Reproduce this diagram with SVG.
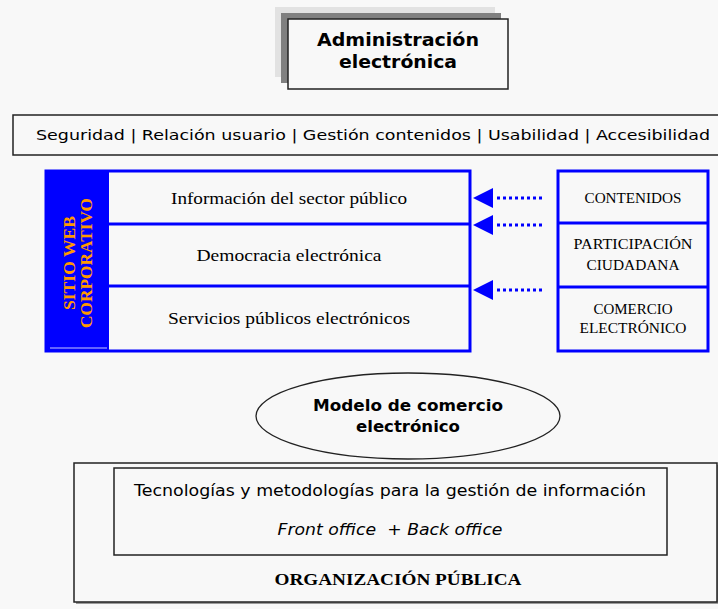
<svg xmlns="http://www.w3.org/2000/svg" width="718" height="609" viewBox="0 0 718 609">
<style>
.sans{font-family:"DejaVu Sans","Liberation Sans",sans-serif;fill:#000}
.serif{font-family:"Liberation Serif","DejaVu Serif",serif;fill:#000}
.box{fill:#f8f8f8;stroke:#222;stroke-width:1.5}
.blue{fill:#f8f8f8;stroke:#0000ff;stroke-width:3}
.dot{stroke:#0000ff;stroke-width:3;stroke-dasharray:3 3;fill:none}
.head{fill:#0000ff}
.vt{font-family:"Liberation Serif","DejaVu Serif",serif;font-size:16px;font-weight:bold;fill:#ff9900}
</style>
<rect width="718" height="609" fill="#f8f8f8"/>

<g id="admin">
  <rect x="275" y="7" width="220" height="70" fill="#e2e2e2"/>
  <rect x="281" y="13" width="220" height="70" fill="#808080"/>
  <rect x="288" y="19" width="220" height="70" class="box"/>
  <text x="398" y="46" class="sans" font-size="17" font-weight="bold" text-anchor="middle" textLength="162" lengthAdjust="spacingAndGlyphs">Administración</text>
  <text x="398" y="68" class="sans" font-size="17" font-weight="bold" text-anchor="middle" textLength="118" lengthAdjust="spacingAndGlyphs">electrónica</text>
</g>

<g id="band">
  <rect x="13" y="115" width="712" height="40" class="box"/>
  <text x="36" y="140" class="sans" font-size="14.5" textLength="674" lengthAdjust="spacingAndGlyphs">Seguridad | Relación usuario | Gestión contenidos | Usabilidad | Accesibilidad</text>
</g>

<g id="sitio">
  <rect x="46" y="171" width="424" height="180" class="blue"/>
  <rect x="46" y="171" width="63" height="180" fill="#0000ff"/>
  <line x1="50" y1="348" x2="107" y2="348" stroke="#c8c8ff" stroke-width="1"/>
  <line x1="109" y1="224" x2="470" y2="224" stroke="#0000ff" stroke-width="3"/>
  <line x1="109" y1="286" x2="470" y2="286" stroke="#0000ff" stroke-width="3"/>
  <g transform="translate(78,263) rotate(-90)">
    <text x="0" y="-3" class="vt" text-anchor="middle" textLength="94" lengthAdjust="spacingAndGlyphs">SITIO WEB</text>
    <text x="0" y="14" class="vt" text-anchor="middle" textLength="130" lengthAdjust="spacingAndGlyphs">CORPORATIVO</text>
  </g>
  <text x="289" y="204" class="serif" font-size="17" text-anchor="middle" textLength="236" lengthAdjust="spacingAndGlyphs">Información del sector público</text>
  <text x="289" y="261" class="serif" font-size="17" text-anchor="middle" textLength="185" lengthAdjust="spacingAndGlyphs">Democracia electrónica</text>
  <text x="289" y="324" class="serif" font-size="17" text-anchor="middle" textLength="242" lengthAdjust="spacingAndGlyphs">Servicios públicos electrónicos</text>
</g>

<g id="fuentes">
  <rect x="558" y="171" width="150" height="180" class="blue"/>
  <line x1="558" y1="223" x2="708" y2="223" stroke="#0000ff" stroke-width="3"/>
  <line x1="558" y1="287" x2="708" y2="287" stroke="#0000ff" stroke-width="3"/>
  <text x="633" y="203" class="serif" font-size="15" text-anchor="middle" textLength="97" lengthAdjust="spacingAndGlyphs">CONTENIDOS</text>
  <text x="633" y="249" class="serif" font-size="15" text-anchor="middle" textLength="119" lengthAdjust="spacingAndGlyphs">PARTICIPACIÓN</text>
  <text x="633" y="270" class="serif" font-size="15" text-anchor="middle" textLength="93" lengthAdjust="spacingAndGlyphs">CIUDADANA</text>
  <text x="633" y="314" class="serif" font-size="15" text-anchor="middle" textLength="79" lengthAdjust="spacingAndGlyphs">COMERCIO</text>
  <text x="633" y="333" class="serif" font-size="15" text-anchor="middle" textLength="107" lengthAdjust="spacingAndGlyphs">ELECTRÓNICO</text>
</g>

<g id="connectors">
  <line x1="497" y1="198" x2="542" y2="198" class="dot"/>
  <polygon points="473,198 493,188 493,208" class="head"/>
  <line x1="497" y1="225" x2="542" y2="225" class="dot"/>
  <polygon points="473,225 493,215 493,235" class="head"/>
  <line x1="497" y1="290" x2="542" y2="290" class="dot"/>
  <polygon points="473,290 493,280 493,300" class="head"/>
</g>

<g id="modelo">
  <ellipse cx="408" cy="416" rx="152" ry="43" fill="#f8f8f8" stroke="#222" stroke-width="1.3"/>
  <text x="408" y="411" class="sans" font-size="15" font-weight="bold" text-anchor="middle" textLength="190" lengthAdjust="spacingAndGlyphs">Modelo de comercio</text>
  <text x="408" y="432" class="sans" font-size="15" font-weight="bold" text-anchor="middle" textLength="104" lengthAdjust="spacingAndGlyphs">electrónico</text>
</g>

<g id="organizacion">
  <rect x="76" y="465" width="643" height="139" fill="#9a9a9a"/>
  <rect x="74" y="463" width="643" height="139" class="box"/>
  <text x="398" y="585" class="serif" font-size="17" font-weight="bold" text-anchor="middle" textLength="247" lengthAdjust="spacingAndGlyphs">ORGANIZACIÓN PÚBLICA</text>
</g>

<g id="tecnologias">
  <rect x="114" y="468" width="553" height="87" class="box"/>
  <text x="390" y="496" class="sans" font-size="15" text-anchor="middle" textLength="512" lengthAdjust="spacingAndGlyphs">Tecnologías y metodologías para la gestión de información</text>
  <text x="390" y="535" class="sans" font-size="15" font-style="italic" text-anchor="middle" xml:space="preserve" textLength="225" lengthAdjust="spacingAndGlyphs">Front office  + Back office</text>
</g>
</svg>
